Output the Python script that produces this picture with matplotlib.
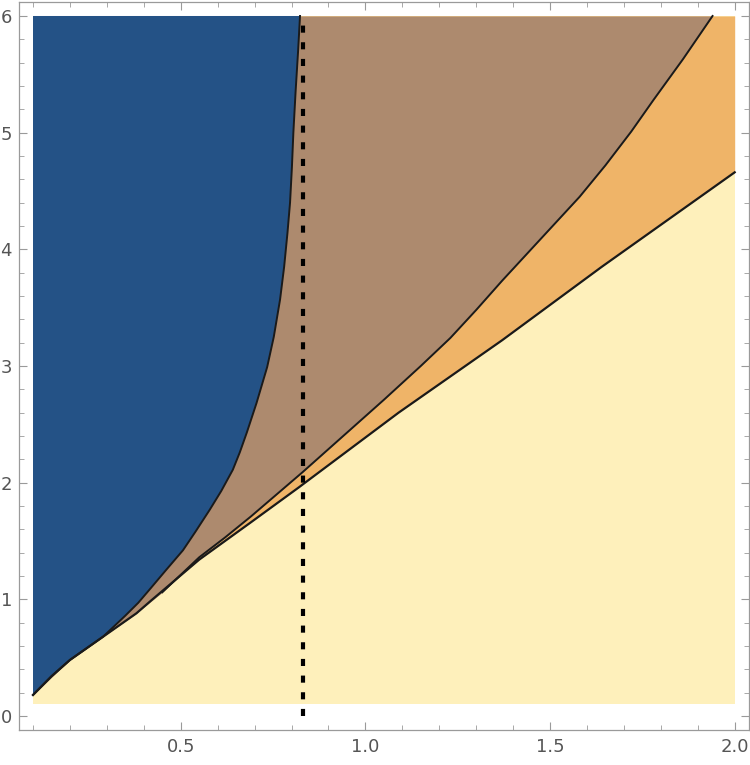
import numpy as np
import matplotlib
matplotlib.use("Agg")
import matplotlib.pyplot as plt
from matplotlib.ticker import MultipleLocator

# plot domain of the region plot
X_MIN, X_MAX = 0.1, 2.0
Y_MIN, Y_MAX = 0.1, 6.0

# lower boundary (light yellow below it)
lower_x = [0.10, 0.15, 0.20, 0.29, 0.38, 0.42, 0.55, 0.69, 0.82, 1.09, 1.37, 1.64, 2.00]
lower_y = [0.18, 0.34, 0.48, 0.68, 0.88, 0.99, 1.34, 1.66, 1.96, 2.60, 3.22, 3.85, 4.66]

# top of the orange band (brown above it)
upper_x = [0.10, 0.20, 0.29, 0.38, 0.45, 0.50, 0.55, 0.62, 0.69, 0.76, 0.83, 0.94,
           1.05, 1.15, 1.23, 1.30, 1.37, 1.44, 1.51, 1.58, 1.65, 1.72, 1.78, 1.86, 1.94]
upper_y = [0.18, 0.48, 0.68, 0.88, 1.06, 1.21, 1.36, 1.53, 1.71, 1.90, 2.09, 2.40,
           2.71, 3.00, 3.24, 3.48, 3.73, 3.97, 4.21, 4.45, 4.72, 5.01, 5.28, 5.63, 6.00]

# right edge of the blue region
blue_x = [0.10, 0.15, 0.20, 0.29, 0.32, 0.35, 0.385, 0.42, 0.46, 0.506, 0.54, 0.579,
          0.61, 0.641, 0.66, 0.679, 0.705, 0.734, 0.752, 0.769, 0.780, 0.789, 0.796,
          0.801, 0.805, 0.811, 0.818, 0.823]
blue_y = [0.18, 0.34, 0.48, 0.68, 0.77, 0.86, 0.97, 1.10, 1.25, 1.42, 1.58, 1.77,
          1.93, 2.11, 2.26, 2.43, 2.68, 2.99, 3.25, 3.57, 3.85, 4.14, 4.40,
          4.70, 5.00, 5.35, 5.71, 6.00]

# dashed reference line
x_ref = 0.83
ref_y = [0.0, 6.0]

c_blue = '#245286'
c_brown = '#AD8A6E'
c_orange = '#EFB468'
c_yellow = '#FEF0BB'
c_edge = '#1a1a1a'

fig = plt.figure(figsize=(7.5, 7.65), dpi=100)
ax = fig.add_axes([0.0253, 0.0458, 0.973, 0.9516])

ax.fill_between([X_MIN, X_MAX], Y_MIN, Y_MAX, color=c_yellow, lw=0, zorder=1)
ax.fill_between(lower_x, lower_y, Y_MAX, color=c_orange, lw=0, zorder=2)
ax.fill_between(upper_x, upper_y, Y_MAX, color=c_brown, lw=0, zorder=3)
ax.fill([X_MIN] + blue_x + [X_MIN], [blue_y[0]] + blue_y + [Y_MAX],
        color=c_blue, lw=0, zorder=4)

ax.plot(lower_x, lower_y, color=c_edge, lw=1.6, zorder=5, solid_joinstyle='round')
ax.plot(upper_x[4:], upper_y[4:], color=c_edge, lw=1.4, zorder=5, solid_joinstyle='round')
ax.plot(blue_x, blue_y, color=c_edge, lw=1.4, zorder=5, solid_joinstyle='round')

ax.plot([x_ref, x_ref], ref_y, color='black', lw=3, linestyle=(0, (1.7, 2.3)), zorder=6)

ax.set_xlim(0.062, 2.038)
ax.set_ylim(-0.12, 6.12)

ax.xaxis.set_minor_locator(MultipleLocator(0.1))
ax.yaxis.set_minor_locator(MultipleLocator(0.2))
ax.set_xticks([0.5, 1.0, 1.5, 2.0])
ax.set_yticks([0, 1, 2, 3, 4, 5, 6])
ax.set_xticklabels(['0.5', '1.0', '1.5', '2.0'])

ax.tick_params(which='both', direction='in', top=True, right=True,
               color='#9a9a9a', labelcolor='#555555', labelsize=13)
ax.tick_params(which='major', length=6, width=0.8)
ax.tick_params(which='minor', length=3.5, width=0.6)
ax.tick_params(axis='x', pad=6)
ax.tick_params(axis='y', pad=5)
for s in ax.spines.values():
    s.set_color('#9a9a9a')
    s.set_linewidth(0.9)

fig.savefig('out.png', dpi=100)
